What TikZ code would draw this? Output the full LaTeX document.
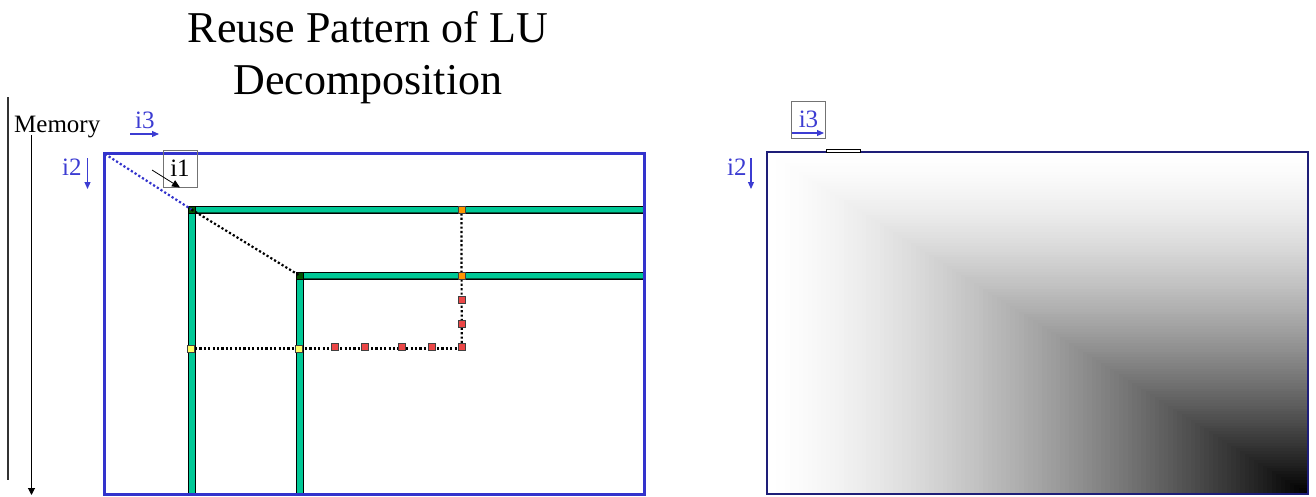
\documentclass[tikz,border=0pt]{standalone}
\usepackage{fontspec}
\setmainfont{Liberation Serif}
\usetikzlibrary{arrows.meta}
\definecolor{myblue}{RGB}{51,51,204}
\definecolor{txtblue}{RGB}{60,60,210}
\definecolor{bargreen}{RGB}{0,200,150}
\definecolor{bardark}{RGB}{0,90,60}
\definecolor{cornergreen}{RGB}{0,85,0}
\definecolor{navy}{RGB}{30,30,120}
\definecolor{redsq}{RGB}{235,70,70}
\definecolor{orsq}{RGB}{255,150,0}
\definecolor{yelsq}{RGB}{255,255,100}
\begin{document}
\begin{tikzpicture}[x=1pt,y=-1pt,
  lbl/.style={font=\fontsize{25}{30}\selectfont, inner sep=0pt},
  bluelbl/.style={lbl, text=txtblue},
  bluearrow/.style={draw=txtblue, line width=1.1pt, -{Triangle[length=7pt,width=6pt]}},
  bar/.style={fill=bargreen, draw=black, line width=0.7pt},
  sq/.style={draw=black!75, line width=0.6pt, minimum size=7pt, inner sep=0pt, anchor=center},
  cornersq/.style={sq, fill=cornergreen, draw=black},
  redbox/.style={sq, fill=redsq},
  orbox/.style={sq, fill=orsq},
  yelbox/.style={sq, fill=yelsq},
  dotline/.style={draw=black, line width=2.2pt, dash pattern=on 2.2pt off 2.2pt},
  bluedot/.style={draw=myblue, line width=2.2pt, dash pattern=on 2.2pt off 2.2pt},
  labbox/.style={lbl, draw=black!55, line width=1pt, minimum width=34pt, minimum height=37pt}
]
\useasboundingbox (0,0) rectangle (1316,496);

% title
\node[font=\fontsize{44}{52}\selectfont, align=center, inner sep=0pt, anchor=north] (title) at (368,11) {Reuse Pattern of LU\\Decomposition};

% memory axis
\coordinate (mlineT) at (8,97);
\coordinate (mlineB) at (8,480);
\draw[black!80, line width=2pt] (mlineT) -- (mlineB);
\node[lbl, anchor=base west] (memory) at (14,132) {Memory};
\coordinate (marrT) at (31.5,135);
\coordinate (marrB) at (31.5,495);
\draw[black, line width=1pt, -{Triangle[length=7pt,width=7pt]}] (marrT) -- (marrB);

% left labels
\node[bluelbl, anchor=base west] (li3) at (135,128) {i3};
\coordinate (li3a) at (130,134);
\coordinate (li3b) at (159,134);
\draw[bluearrow] (li3a) -- (li3b);
\node[bluelbl, anchor=base west] (li2) at (62,175) {i2};
\coordinate (li2a) at (87.5,158);
\coordinate (li2b) at (87.5,189);
\draw[bluearrow] (li2a) -- (li2b);

% left matrix bars
\draw[bar] (188,206) rectangle (645,213);
\draw[bar] (188,206) rectangle (195,494);
\draw[bardark, line width=1pt] (195,212.6) -- (645,212.6);
\draw[bar] (296,272) rectangle (645,279);
\draw[bar] (296,272) rectangle (303,494);
\draw[bardark, line width=1pt] (303,278.6) -- (645,278.6);

% squares
\node[cornersq] (c1) at (191.5,209.5) {};
\node[cornersq] (c2) at (299.5,275.5) {};
\node[orbox] (o1) at (461.5,209.5) {};
\node[orbox] (o2) at (461.5,275.5) {};
\node[yelbox] (y1) at (190.5,348.5) {};
\node[yelbox] (y2) at (298.5,348.5) {};
\coordinate (corner) at (461.7,348.5);

% dotted paths
\coordinate (lefttl) at (105,154);
\draw[bluedot] (lefttl) -- (c1.center);
\draw[dotline] (c1.center) -- (c2.center);
\draw[dotline] (o1.south) -- (corner);
\draw[dotline] (y1.center) -- (corner);

\node[redbox] (r1) at (335,347) {};
\node[redbox] (r2) at (365,347) {};
\node[redbox] (r3) at (401.5,347) {};
\node[redbox] (r4) at (431.5,347) {};
\node[redbox] (r5) at (461.7,347) {};
\node[redbox] (r6) at (461.7,324) {};
\node[redbox] (r7) at (461.7,300) {};
\node[orbox] at (o1) {};
\node[orbox] at (o2) {};
\node[yelbox] at (y1) {};
\node[yelbox] at (y2) {};

% left outline
\draw[myblue, line width=3pt] (104,153) rectangle (644,494);

% i1 box
\node[labbox] (i1) at (180,168.5) {i1};
\coordinate (i1a) at (152,170);
\draw[black, line width=0.8pt, -{Triangle[length=8pt,width=7pt]}] (i1a) -- (i1.south);

% right panel gradient: darkness = min(u,v)
\foreach \i in {0,...,119}{
  \pgfmathsetmacro\tt{\i/120}
  \pgfmathsetmacro\pp{100*((\i+0.5)/120)^1.5}
  \fill[black!\pp] (767+\tt*541,152+\tt*342) rectangle (1308,494);
}
\draw[navy, line width=2pt] (767,152) rectangle (1308,494);
\draw[black, line width=0.7pt, fill=white] (826,149) rectangle (860,152);

% right labels
\node[labbox, text=txtblue] (ri3) at (808.5,119.5) {i3};
\coordinate (ri3a) at (792,133);
\coordinate (ri3b) at (824,133);
\draw[bluearrow] (ri3a) -- (ri3b);
\node[bluelbl, anchor=base west] (ri2) at (727,175) {i2};
\coordinate (ri2a) at (751,158);
\coordinate (ri2b) at (751,189);
\draw[bluearrow] (ri2a) -- (ri2b);
\end{tikzpicture}
\end{document}
